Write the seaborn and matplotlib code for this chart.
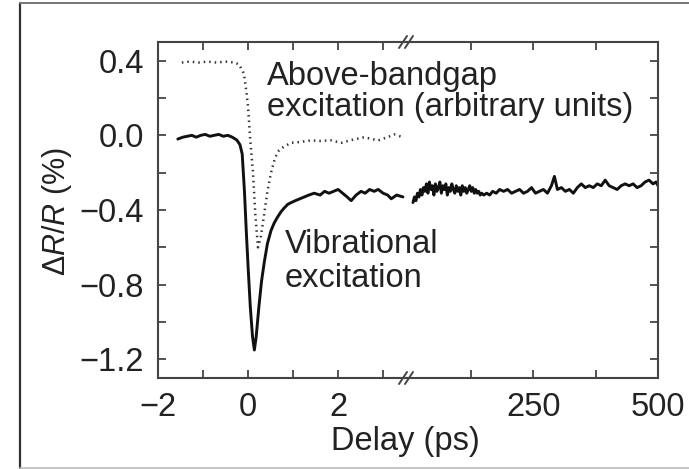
import numpy as np
import pandas as pd
import matplotlib
matplotlib.use("Agg")
import matplotlib.pyplot as plt
import seaborn as sns

# ---------------- data ----------------
# short-delay window (ps)
t_vib_short = [-1.56, -1.45, -1.35, -1.25, -1.15, -1.05, -0.95, -0.85, -0.75, -0.65,
               -0.55, -0.45, -0.35, -0.25, -0.18, -0.13, -0.08, -0.04, 0.0, 0.05,
               0.10, 0.14, 0.18, 0.24, 0.30, 0.36, 0.43, 0.51, 0.58, 0.65,
               0.73, 0.80, 0.88, 0.96, 1.05, 1.15, 1.25, 1.35, 1.47, 1.60,
               1.70, 1.80, 1.90, 2.00, 2.10, 2.20, 2.29, 2.40, 2.51, 2.60,
               2.70, 2.80, 2.89, 3.00, 3.10, 3.18, 3.30, 3.44]
v_vib_short = [-0.02, -0.01, -0.005, 0.0, -0.01, 0.0, 0.005, -0.005, 0.0, 0.005,
               -0.005, 0.0, -0.01, -0.025, -0.05, -0.10, -0.30, -0.51, -0.70, -0.92,
               -1.08, -1.15, -1.08, -0.92, -0.78, -0.68, -0.58, -0.51, -0.47, -0.44,
               -0.41, -0.39, -0.37, -0.36, -0.35, -0.34, -0.33, -0.32, -0.31, -0.32,
               -0.30, -0.31, -0.30, -0.29, -0.31, -0.33, -0.35, -0.32, -0.30, -0.31,
               -0.29, -0.30, -0.29, -0.31, -0.32, -0.34, -0.32, -0.33]

t_above = [-1.47, -1.3, -1.1, -0.9, -0.7, -0.5, -0.3, -0.2, -0.09, -0.03,
           0.0, 0.05, 0.11, 0.16, 0.22, 0.28, 0.36, 0.43, 0.51, 0.60,
           0.69, 0.80, 0.96, 1.18, 1.40, 1.60, 1.84, 2.07, 2.30, 2.58,
           2.75, 2.89, 3.10, 3.24, 3.44]
v_above = [0.39, 0.395, 0.39, 0.395, 0.39, 0.395, 0.39, 0.38, 0.33, 0.22,
           0.15, -0.03, -0.20, -0.42, -0.60, -0.55, -0.42, -0.30, -0.20, -0.12,
           -0.08, -0.06, -0.04, -0.035, -0.027, -0.03, -0.027, -0.04, -0.025, -0.01,
           -0.02, -0.027, -0.01, 0.005, -0.01]

# long-delay window (ps)
t_vib_long = [8, 11, 14, 17, 20, 23, 26, 29, 32, 35,
              38, 41, 44, 47, 50, 53, 56, 59, 62, 65,
              68, 71, 74, 77, 80, 83, 86, 89, 92, 95,
              98, 101, 104, 107, 110, 113, 116, 119, 122, 125,
              128, 131, 134, 137, 140, 143, 146,
              150, 156, 162, 168, 175, 182,
              190, 198, 206, 214, 222, 230, 238, 246, 254, 262, 270, 278, 286,
              292, 298,
              306, 314, 322, 330, 338, 346, 354, 362, 370, 378, 386, 394,
              402, 410, 418, 426, 434, 442, 450, 458, 466, 474, 482, 490,
              496, 500]
v_vib_long = [-0.36, -0.33, -0.35, -0.31, -0.33, -0.29, -0.32, -0.28, -0.30, -0.26,
              -0.31, -0.25, -0.29, -0.27, -0.32, -0.26, -0.30, -0.28, -0.25, -0.31,
              -0.27, -0.29, -0.26, -0.32, -0.28, -0.30, -0.26, -0.29, -0.31, -0.27,
              -0.30, -0.28, -0.32, -0.27, -0.30, -0.28, -0.31, -0.29, -0.27, -0.30,
              -0.28, -0.31, -0.29, -0.31, -0.30, -0.32, -0.31,
              -0.32, -0.31, -0.32, -0.30, -0.31, -0.29,
              -0.30, -0.29, -0.31, -0.30, -0.29, -0.31, -0.30, -0.28, -0.31, -0.30, -0.29, -0.31, -0.27,
              -0.22, -0.29,
              -0.28, -0.30, -0.29, -0.31, -0.28, -0.26, -0.28, -0.27, -0.28, -0.26, -0.27, -0.24,
              -0.27, -0.28, -0.29, -0.27, -0.26, -0.27, -0.26, -0.28, -0.27, -0.25, -0.24, -0.26,
              -0.25, -0.27]

y_ticks = [0.4, 0.0, -0.4, -0.8, -1.2]
x_ticks_short = [-2, 0, 2]
x_ticks_long = [250, 500]

# ---------------- style ----------------
sns.set_theme(style="white")
plt.rcParams['font.family'] = ['Liberation Sans', 'DejaVu Sans']
plt.rcParams['mathtext.fontset'] = 'custom'
plt.rcParams['mathtext.rm'] = 'Liberation Sans'
plt.rcParams['mathtext.it'] = 'Liberation Sans:italic'
plt.rcParams['axes.unicode_minus'] = True

W, H = 689, 469
fig = plt.figure(figsize=(W / 100, H / 100), dpi=100)
fig.patch.set_facecolor('white')

def fx(px):
    return px / W

def fy(py):
    return 1 - py / H

# figure frame lines
fig.add_artist(plt.Line2D([fx(20), fx(20)], [fy(3), fy(468)], color='#333333', lw=1.6, transform=fig.transFigure))
fig.add_artist(plt.Line2D([fx(20), 1.0], [fy(3), fy(3)], color='#777777', lw=1.4, transform=fig.transFigure))
fig.add_artist(plt.Line2D([fx(20), 1.0], [fy(468), fy(468)], color='#bbbbbb', lw=1.2, transform=fig.transFigure))

ax_left, ax_break, ax_right = 158, 407, 658
ax_top, ax_bot = 42, 378
ax1 = fig.add_axes([fx(ax_left), fy(ax_bot), fx(ax_break - ax_left), (ax_bot - ax_top) / H])
ax2 = fig.add_axes([fx(ax_break), fy(ax_bot), fx(ax_right - ax_break), (ax_bot - ax_top) / H], sharey=ax1)
for a in (ax1, ax2):
    a.set_facecolor('none')

df_vs = pd.DataFrame({'t': t_vib_short, 'v': v_vib_short})
df_ab = pd.DataFrame({'t': t_above, 'v': v_above})
df_vl = pd.DataFrame({'t': t_vib_long, 'v': v_vib_long})

sns.lineplot(data=df_ab, x='t', y='v', ax=ax1, color='#333333', lw=1.8,
             linestyle=(0, (0.6, 1.6)), sort=False)
sns.lineplot(data=df_vs, x='t', y='v', ax=ax1, color='#111111', lw=2.1, sort=False)
sns.lineplot(data=df_vl, x='t', y='v', ax=ax2, color='#111111', lw=2.1, sort=False)

ax1.set_xlim(-2, 3.53)
ax2.set_xlim(-4, 500)
ax1.set_ylim(-1.3, 0.5)

spine_c = '#444444'
for a in (ax1, ax2):
    for s in a.spines.values():
        s.set_color(spine_c)
        s.set_linewidth(1.5)
    a.set_xlabel('')
    a.set_ylabel('')
ax1.spines['right'].set_visible(False)
ax2.spines['left'].set_visible(False)

ax1.set_yticks(y_ticks)
ax1.set_yticks([0.2, -0.2, -0.6, -1.0], minor=True)
ax1.set_yticklabels(['0.4', '0.0', '\u22120.4', '\u22120.8', '\u22121.2'])
ax1.set_xticks(x_ticks_short)
ax1.set_xticklabels(['\u22122', '0', '2'])
ax1.set_xticks([-1, 1, 3], minor=True)
ax2.set_xticks(x_ticks_long)
ax2.set_xticks([125, 375], minor=True)

tick_kw = dict(direction='in', length=6, width=1.3, color=spine_c, labelsize=23.5, labelcolor='#222222')
ax1.tick_params(axis='both', which='both', top=True, bottom=True, left=True, right=False, **tick_kw)
ax1.tick_params(axis='y', which='both', pad=10)
ax1.tick_params(axis='x', which='both', pad=10)
ax2.tick_params(axis='both', which='both', top=True, bottom=True, left=False, right=True,
                labelleft=False, **tick_kw)
ax2.tick_params(axis='x', which='both', pad=10)
ax1.tick_params(axis='x', which='minor', labelbottom=False)
ax2.tick_params(axis='x', which='minor', labelbottom=False)

# break marks
for ypix in (ax_top, ax_bot):
    for dx in (-5, 1):
        x0 = ax_break + dx
        fig.add_artist(plt.Line2D([fx(x0 - 3), fx(x0 + 5)], [fy(ypix + 6), fy(ypix - 6)],
                                  color=spine_c, lw=1.4, transform=fig.transFigure))

# texts
txt_kw = dict(fontsize=23.5, color='#222222', va='baseline', ha='left')
fig.text(fx(267), fy(85), 'Above-bandgap', **txt_kw)
fig.text(fx(267), fy(116), 'excitation (arbitrary units)', **txt_kw)
fig.text(fx(285), fy(253), 'Vibrational', **txt_kw)
fig.text(fx(285), fy(287), 'excitation', **txt_kw)

fig.text(fx(405), fy(450), 'Delay (ps)', fontsize=23.5, color='#222222', ha='center', va='baseline')
fig.text(fx(57), fy(211), r'$\mathrm{\Delta}\mathit{R/R}$ (%)', fontsize=22, color='#222222',
         ha='center', va='center', rotation=90)

fig.savefig('out.png', dpi=100, facecolor='white')
